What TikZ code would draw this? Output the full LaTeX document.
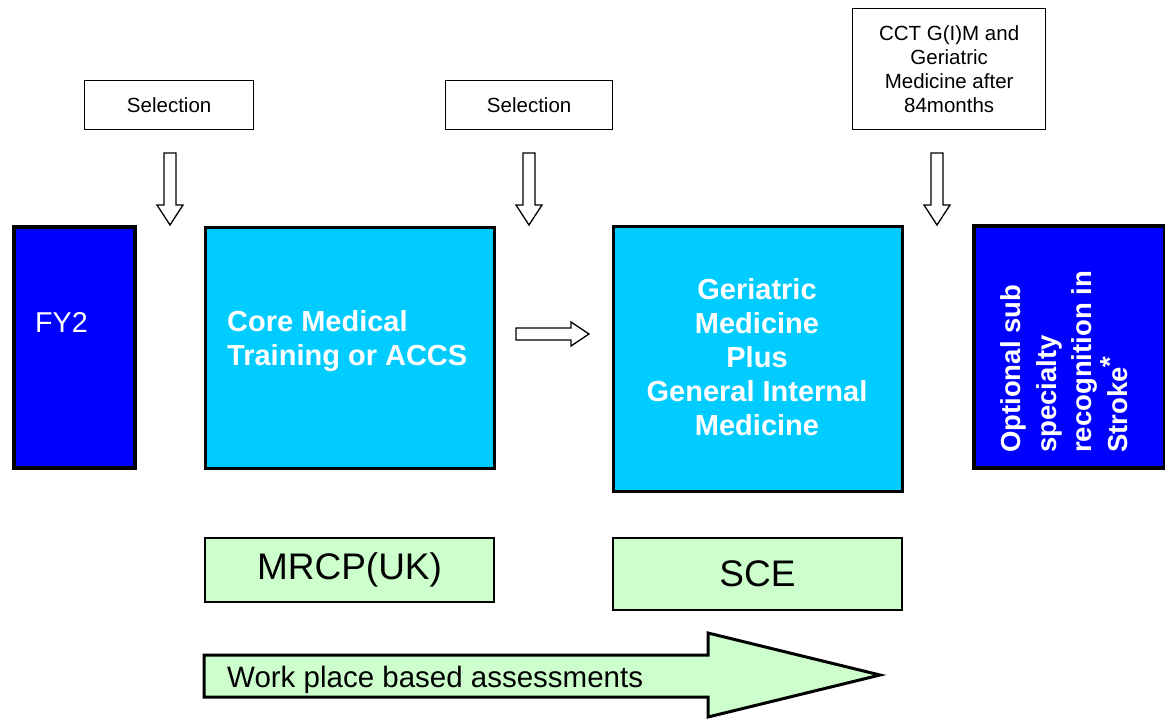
\documentclass[tikz,border=0pt]{standalone}
\usepackage{fontspec}
\setmainfont{Liberation Sans}
\begin{document}
\begin{tikzpicture}[x=1pt,y=-1pt,
  darkbox/.style={draw=black,line width=3.5pt,fill=blueA,anchor=north west,inner sep=0pt},
  cyanbox/.style={draw=black,line width=2.5pt,fill=cyanA,anchor=north west,inner sep=0pt},
  greenbox/.style={draw=black,line width=2pt,fill=greenA,anchor=north west,inner sep=0pt,
     font=\fontsize{37}{40}\selectfont},
  selbox/.style={draw=black,line width=1.3pt,fill=white,anchor=north west,inner sep=0pt,
     font=\fontsize{20.5}{24.3}\selectfont,align=center},
  boldtxt/.style={text=white,font=\bfseries\fontsize{29}{34}\selectfont,inner sep=0pt},
  blockarrow/.style={draw=black,line width=1.3pt,fill=white},
  bigarrow/.style={draw=black,line width=3pt,fill=greenA,line join=miter}
]
\definecolor{blueA}{RGB}{0,0,255}
\definecolor{cyanA}{RGB}{0,204,255}
\definecolor{greenA}{RGB}{204,255,204}
\useasboundingbox (0,0) rectangle (1165,718);

% top boxes
\node[selbox,minimum width=169pt,minimum height=49pt] (sel1) at (84,80) {Selection};
\node[selbox,minimum width=167pt,minimum height=49pt] (sel2) at (445,80) {Selection};
\node[selbox,minimum width=193pt,minimum height=121pt] (cct) at (852,8)
  {CCT G(I)M and\\Geriatric\\Medicine after\\84months};

% main boxes
\node[darkbox,minimum width=121pt,minimum height=241pt] (fy2) at (12,225) {};
\node[text=white,font=\fontsize{28.7}{30}\selectfont,anchor=west,inner sep=0pt] (fy2t) at (35,322) {FY2};
\node[cyanbox,minimum width=289pt,minimum height=241pt] (cmt) at (204,226) {};
\node[boldtxt,anchor=west,align=left] (cmtt) at (227,341) {Core Medical\\Training or ACCS};
\node[cyanbox,minimum width=289pt,minimum height=265pt] (ger) at (612,225) {};
\node[boldtxt,align=center] (gert) at (757,357)
  {Geriatric\\Medicine\\Plus\\General Internal\\Medicine};
\node[darkbox,minimum width=191pt,minimum height=242pt] (str) at (972,224) {};
\node[boldtxt,font=\bfseries\fontsize{27.5}{35.5}\selectfont,rotate=90,anchor=west,align=left] (strt) at (1064,453)
  {Optional sub\\specialty\\recognition in\\Stroke\raisebox{0.28em}{*}};

% exam boxes
\node[greenbox,minimum width=289pt,minimum height=64pt] (mrcp) at (204,537) {MRCP(UK)};
\node[greenbox,minimum width=289pt,minimum height=72pt] (sce) at (612,537) {SCE};

% down block arrows
\foreach \cx in {170,529,937}{
  \draw[blockarrow] (\cx-6,153) -- (\cx+6,153) -- (\cx+6,205) -- (\cx+13,205)
    -- (\cx,225) -- (\cx-13,205) -- (\cx-6,205) -- cycle;
}
% right block arrow
\draw[blockarrow] (516,328) -- (571,328) -- (571,322) -- (589,334) -- (571,346)
  -- (571,340) -- (516,340) -- cycle;

% big arrow
\draw[bigarrow] (204,655) -- (708,655) -- (708,633) -- (880,675) -- (708,717)
  -- (708,697) -- (204,697) -- cycle;
\node[font=\fontsize{29.5}{30}\selectfont,anchor=base west,inner sep=0pt] (wpba) at (227,687)
  {Work place based assessments};
\end{tikzpicture}
\end{document}
